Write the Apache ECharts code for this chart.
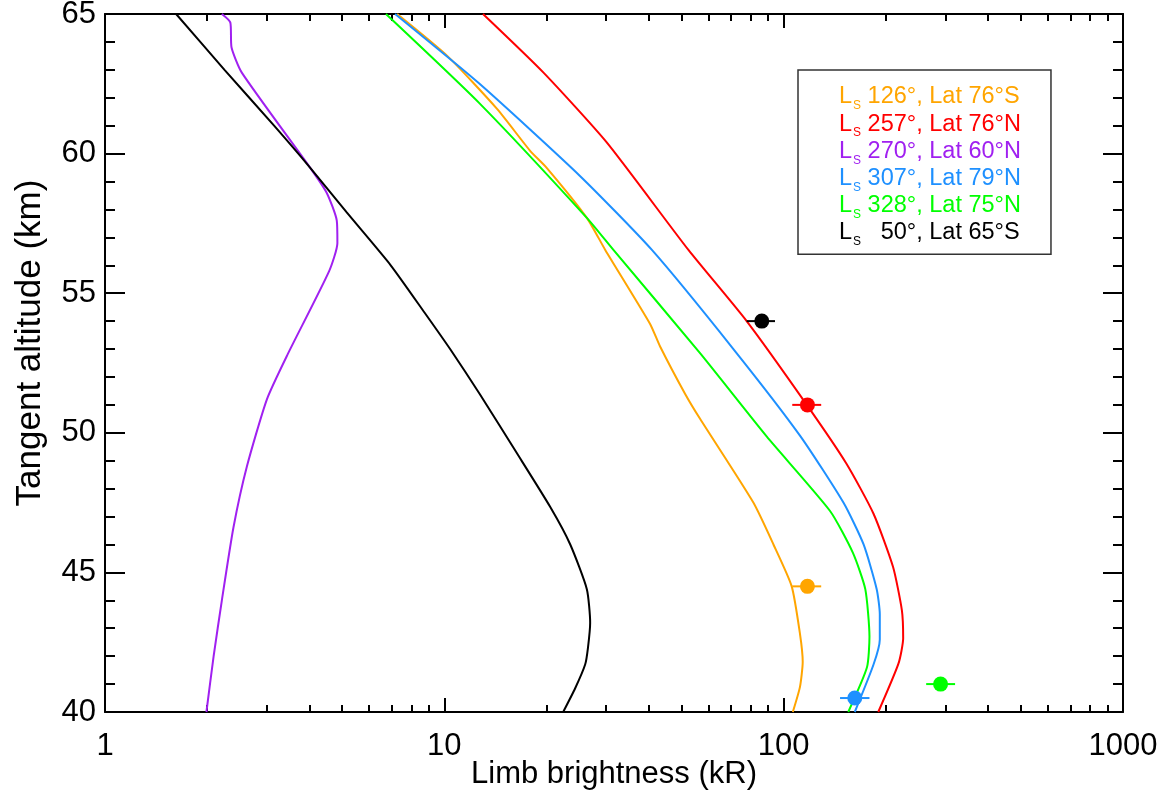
<!DOCTYPE html>
<html>
<head>
<meta charset="utf-8">
<script src="https://cdn.jsdelivr.net/npm/echarts@6/dist/echarts.min.js"></script>
<style>
    html, body { margin: 0; padding: 0; background: #fff; }
    #chart { width: 1171px; height: 795px; }
</style>
</head>
<body>
<div id="chart"></div>
<script>
// altitude (km) and limb brightness (kR) of each model profile
var alt126 = [65, 63.5, 61.6, 60.1, 59.5, 57.7, 56.55, 53.9, 53.1, 51.4, 50.5, 47.5, 46.0, 44.5, 42.8, 41.8, 40.9, 40.0];
var kr126 = [7.26, 10.2, 14.3, 17.9, 20.0, 26.3, 29.8, 40.4, 43.2, 51.2, 56.7, 81.4, 93.3, 105.6, 111.7, 113.8, 111.7, 106.4];

var alt257 = [65, 62.9, 60.4, 56.55, 54.0, 51.0, 48.9, 47.1, 45.2, 43.65, 42.64, 41.74, 40.0];
var kr257 = [13.0, 19.6, 30.1, 52.4, 77.8, 117, 153, 184, 210, 223, 225, 218, 190];

var alt270 = [65, 64.7, 63.8, 62.9, 59.5, 58.6, 57.6, 56.8, 55.8, 52.8, 51.2, 48.8, 46.6, 44.0, 42.0, 40.0];
var kr270 = [2.21, 2.34, 2.36, 2.53, 4.02, 4.5, 4.82, 4.84, 4.58, 3.45, 3.0, 2.62, 2.39, 2.21, 2.09, 1.99];

var alt307 = [65, 62.5, 59.2, 56.55, 53.0, 49.9, 47.5, 46.0, 44.4, 43.5, 42.6, 41.7, 40.0];
var kr307 = [7.16, 12.7, 25.1, 40.9, 71.1, 111.7, 150, 172, 188, 192, 192, 184, 162];

var alt328 = [65, 61.8, 57.7, 56.55, 52.85, 49.86, 47.2, 45.7, 44.4, 42.7, 41.6, 40.0];
var kr328 = [6.73, 12.7, 26.3, 31.5, 56.7, 89.2, 137, 160, 174, 179, 176, 155];

var alt50 = [65, 63, 61, 59.5, 57.9, 56.0, 54.3, 53.0, 51.4, 49.3, 47.35, 46.0, 44.4, 43.2, 42.3, 41.7, 40.85, 40.0];
var kr50 = [1.62, 2.25, 3.15, 4.02, 5.15, 6.95, 8.75, 10.4, 12.7, 16.3, 20.5, 23.5, 26.3, 26.9, 26.5, 26.0, 24.3, 22.4];

// measured points with error bars
var obsSet = ['50', '257', '126', '307', '328'];
var obsAlt = [54.0, 51.0, 44.5, 40.5, 41.0];
var obsKr = [86.2, 117.5, 117.5, 162, 290];
var obsLo = [77.8, 106, 106, 146.6, 263];
var obsHi = [94.3, 129, 129, 179, 320];

// axis ticks
var xLabels = [1, 10, 100, 1000];
var xMinor = [2, 3, 4, 5, 6, 7, 8, 9, 20, 30, 40, 50, 60, 70, 80, 90, 200, 300, 400, 500, 600, 700, 800, 900];

var sets = [
    { key: '126', ls: '126', lat: '76°S', color: '#FFA500', alt: alt126, kr: kr126 },
    { key: '257', ls: '257', lat: '76°N', color: '#FF0000', alt: alt257, kr: kr257 },
    { key: '270', ls: '270', lat: '60°N', color: '#A020F0', alt: alt270, kr: kr270 },
    { key: '307', ls: '307', lat: '79°N', color: '#1E90FF', alt: alt307, kr: kr307 },
    { key: '328', ls: '328', lat: '75°N', color: '#00FF00', alt: alt328, kr: kr328 },
    { key: '50', ls: '  50', lat: '65°S', color: '#000000', alt: alt50, kr: kr50 }
];
var colorOf = {};
sets.forEach(function (s) { colorOf[s.key] = s.color; });

var font = 'Liberation Sans, Arial, Helvetica, sans-serif';
var chart = echarts.init(document.getElementById('chart'), null, { renderer: 'canvas' });

function xAxisCfg(pos, major) {
    return {
        type: 'log',
        logBase: 10,
        min: 1,
        max: 1000,
        position: pos,
        axisLine: { show: major, lineStyle: { color: '#000', width: 2 } },
        axisTick: major
            ? { show: true, inside: true, length: 14, lineStyle: { color: '#000', width: 2 } }
            : { show: true, inside: true, length: 7, customValues: xMinor, lineStyle: { color: '#000', width: 2 } },
        axisLabel: {
            show: major && pos === 'bottom',
            customValues: xLabels,
            color: '#000',
            fontFamily: font,
            fontSize: 31,
            margin: 19,
            formatter: function (v) { return String(Math.round(v)); }
        },
        splitLine: { show: false },
        name: major && pos === 'bottom' ? 'Limb brightness (kR)' : '',
        nameLocation: 'middle',
        nameGap: 47,
        nameMoveOverlap: false,
        nameTextStyle: { color: '#000', fontFamily: font, fontSize: 31 }
    };
}

function yAxisCfg(pos) {
    return {
        type: 'value',
        min: 40,
        max: 65,
        interval: 5,
        position: pos,
        axisLine: { show: true, lineStyle: { color: '#000', width: 2 } },
        axisTick: { show: true, inside: true, length: 20, lineStyle: { color: '#000', width: 2 } },
        minorTick: { show: true, splitNumber: 5, length: 10, lineStyle: { color: '#000', width: 2 } },
        axisLabel: { show: pos === 'left', color: '#000', fontFamily: font, fontSize: 31, margin: 9 },
        splitLine: { show: false },
        name: pos === 'left' ? 'Tangent altitude (km)' : '',
        nameLocation: 'middle',
        nameGap: 57,
        nameMoveOverlap: false,
        nameTextStyle: { color: '#000', fontFamily: font, fontSize: 35, padding: [0, 0, 0, 40] }
    };
}

var series = sets.map(function (s) {
    return {
        name: s.key,
        type: 'line',
        data: s.kr.map(function (v, i) { return [v, s.alt[i]]; }),
        showSymbol: false,
        symbol: 'none',
        smooth: 0.2,
        lineStyle: { color: s.color, width: 2 },
        itemStyle: { color: s.color },
        z: 2
    };
});

series.push({
    name: 'errors',
    type: 'custom',
    data: obsKr.map(function (v, i) { return [obsLo[i], obsHi[i], obsAlt[i], i]; }),
    encode: { x: [0, 1], y: 2 },
    renderItem: function (params, api) {
        var a = api.coord([api.value(0), api.value(2)]);
        var b = api.coord([api.value(1), api.value(2)]);
        return {
            type: 'line',
            shape: { x1: a[0], y1: a[1], x2: b[0], y2: b[1] },
            style: { stroke: colorOf[obsSet[api.value(3)]], lineWidth: 2 }
        };
    },
    z: 3
});

series.push({
    name: 'points',
    type: 'scatter',
    symbol: 'circle',
    symbolSize: 15,
    data: obsKr.map(function (v, i) {
        return { value: [v, obsAlt[i]], itemStyle: { color: colorOf[obsSet[i]], opacity: 1 } };
    }),
    z: 4
});

var option = {
    animation: false,
    backgroundColor: '#fff',
    grid: { left: 105, right: 48, top: 14, bottom: 83, containLabel: false, outerBoundsMode: 'none' },
    xAxis: [xAxisCfg('bottom', true), xAxisCfg('bottom', false), xAxisCfg('top', true), xAxisCfg('top', false)],
    yAxis: [yAxisCfg('left'), yAxisCfg('right')],
    legend: {
        left: 798,
        top: 70,
        orient: 'vertical',
        itemWidth: 0,
        itemHeight: 0,
        itemGap: 0,
        padding: [15, 30, 6, 35],
        borderColor: '#333',
        borderWidth: 1.5,
        selectedMode: false,
        itemStyle: { opacity: 0 },
        lineStyle: { opacity: 0 },
        data: sets.map(function (s) { return { name: s.key, textStyle: { color: s.color } }; }),
        formatter: function (name) {
            var s = sets.filter(function (d) { return d.key === name; })[0];
            return '{m|L}{s|S}{m| ' + s.ls + '°, Lat ' + s.lat + '}';
        },
        textStyle: {
            fontFamily: font,
            rich: {
                m: { fontFamily: font, fontSize: 23.5, lineHeight: 23, padding: [0, 0, 3.2, 0] },
                s: { fontFamily: font, fontSize: 12, lineHeight: 12, padding: [14.5, 0, 0, 1] }
            }
        }
    },
    series: series
};

chart.setOption(option);
</script>
</body>
</html>
